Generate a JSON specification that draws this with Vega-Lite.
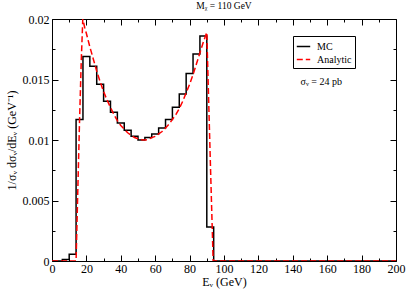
{
  "$schema": "https://vega.github.io/schema/vega-lite/v6.json",
  "autosize": "none",
  "width": 344,
  "height": 242,
  "padding": {"left": 52, "top": 19, "right": 11, "bottom": 29},
  "background": "white",
  "title": {"text": "M\u1D6A = 110 GeV", "font": "Liberation Serif", "fontSize": 9.5, "fontWeight": "normal", "color": "black", "offset": 3, "anchor": "middle"},
  "datasets": {
    "mc": [
      {"E": 0, "y": 0, "s": "MC"},
      {"E": 6, "y": 0.00012, "s": "MC"},
      {"E": 10, "y": 0.00056, "s": "MC"},
      {"E": 14, "y": 0.0117, "s": "MC"},
      {"E": 18, "y": 0.0169, "s": "MC"},
      {"E": 22, "y": 0.0161, "s": "MC"},
      {"E": 26, "y": 0.0146, "s": "MC"},
      {"E": 30, "y": 0.0132, "s": "MC"},
      {"E": 34, "y": 0.0123, "s": "MC"},
      {"E": 38, "y": 0.0114, "s": "MC"},
      {"E": 42, "y": 0.0108, "s": "MC"},
      {"E": 46, "y": 0.0103, "s": "MC"},
      {"E": 50, "y": 0.0100, "s": "MC"},
      {"E": 54, "y": 0.0102, "s": "MC"},
      {"E": 58, "y": 0.0105, "s": "MC"},
      {"E": 62, "y": 0.0110, "s": "MC"},
      {"E": 66, "y": 0.0117, "s": "MC"},
      {"E": 70, "y": 0.0127, "s": "MC"},
      {"E": 74, "y": 0.0138, "s": "MC"},
      {"E": 78, "y": 0.0155, "s": "MC"},
      {"E": 82, "y": 0.0171, "s": "MC"},
      {"E": 86, "y": 0.0186, "s": "MC"},
      {"E": 90, "y": 0.0028, "s": "MC"},
      {"E": 94, "y": 0, "s": "MC"},
      {"E": 200, "y": 0, "s": "MC"}
    ],
    "an": [
      {"E": 0, "y": 0, "s": "Analytic"},
      {"E": 14, "y": 0, "s": "Analytic"},
      {"E": 15, "y": 0.0058, "s": "Analytic"},
      {"E": 16, "y": 0.0115, "s": "Analytic"},
      {"E": 17, "y": 0.0165, "s": "Analytic"},
      {"E": 17.9, "y": 0.0200, "s": "Analytic"},
      {"E": 19, "y": 0.0193, "s": "Analytic"},
      {"E": 20, "y": 0.0188, "s": "Analytic"},
      {"E": 22, "y": 0.0177, "s": "Analytic"},
      {"E": 24, "y": 0.0167, "s": "Analytic"},
      {"E": 26, "y": 0.0157, "s": "Analytic"},
      {"E": 28, "y": 0.0148, "s": "Analytic"},
      {"E": 30, "y": 0.0140, "s": "Analytic"},
      {"E": 32, "y": 0.0133, "s": "Analytic"},
      {"E": 34, "y": 0.0127, "s": "Analytic"},
      {"E": 36, "y": 0.0121, "s": "Analytic"},
      {"E": 38, "y": 0.0116, "s": "Analytic"},
      {"E": 40, "y": 0.0112, "s": "Analytic"},
      {"E": 42, "y": 0.0109, "s": "Analytic"},
      {"E": 44, "y": 0.0106, "s": "Analytic"},
      {"E": 46, "y": 0.0104, "s": "Analytic"},
      {"E": 48, "y": 0.0102, "s": "Analytic"},
      {"E": 50, "y": 0.0101, "s": "Analytic"},
      {"E": 52, "y": 0.01003, "s": "Analytic"},
      {"E": 54, "y": 0.0100, "s": "Analytic"},
      {"E": 56, "y": 0.01005, "s": "Analytic"},
      {"E": 58, "y": 0.0102, "s": "Analytic"},
      {"E": 60, "y": 0.0103, "s": "Analytic"},
      {"E": 62, "y": 0.0105, "s": "Analytic"},
      {"E": 64, "y": 0.0107, "s": "Analytic"},
      {"E": 66, "y": 0.0110, "s": "Analytic"},
      {"E": 68, "y": 0.0113, "s": "Analytic"},
      {"E": 70, "y": 0.0117, "s": "Analytic"},
      {"E": 72, "y": 0.0121, "s": "Analytic"},
      {"E": 74, "y": 0.0126, "s": "Analytic"},
      {"E": 76, "y": 0.0132, "s": "Analytic"},
      {"E": 78, "y": 0.0139, "s": "Analytic"},
      {"E": 80, "y": 0.0146, "s": "Analytic"},
      {"E": 82, "y": 0.0154, "s": "Analytic"},
      {"E": 84, "y": 0.0163, "s": "Analytic"},
      {"E": 86, "y": 0.0172, "s": "Analytic"},
      {"E": 88, "y": 0.0181, "s": "Analytic"},
      {"E": 90, "y": 0.0189, "s": "Analytic"},
      {"E": 91, "y": 0.0137, "s": "Analytic"},
      {"E": 92, "y": 0.0085, "s": "Analytic"},
      {"E": 93, "y": 0.0035, "s": "Analytic"},
      {"E": 93.7, "y": 0, "s": "Analytic"},
      {"E": 200, "y": 0, "s": "Analytic"}
    ],
    "ann": [
      {"E": 144.5, "y": 0.0148, "t": "\u03C3\u1D65 = 24 pb"}
    ]
  },
  "config": {
    "view": {"stroke": null},
    "axis": {
      "grid": false,
      "domainColor": "black",
      "tickColor": "black",
      "labelColor": "black",
      "titleColor": "black",
      "labelFont": "Liberation Serif",
      "titleFont": "Liberation Serif",
      "titleFontWeight": "normal",
      "domainWidth": 1,
      "tickWidth": 1,
      "labelFontSize": 12,
      "titleFontSize": 12
    },
    "legend": {
      "labelFont": "Liberation Serif",
      "labelFontSize": 10,
      "labelColor": "black"
    }
  },
  "resolve": {"axis": {"x": "independent", "y": "independent"}},
  "layer": [
    {
      "data": {"name": "mc"},
      "mark": {"type": "line", "interpolate": "step-after", "strokeWidth": 1.5, "clip": true},
      "encoding": {
        "x": {"field": "E", "type": "quantitative", "scale": {"domain": [0, 200], "nice": false, "zero": false}, "axis": null},
        "y": {"field": "y", "type": "quantitative", "scale": {"domain": [0, 0.02], "nice": false}, "axis": null},
        "color": {"field": "s", "type": "nominal", "scale": {"domain": ["MC", "Analytic"], "range": ["black", "#ff0000"]},
          "legend": {"title": null, "orient": "none", "legendX": 241, "legendY": 17, "strokeColor": "black", "fillColor": "white", "padding": 3, "symbolType": "stroke", "symbolSize": 180, "symbolStrokeWidth": 1.5, "rowPadding": 0, "labelOffset": 6}},
        "strokeDash": {"field": "s", "type": "nominal", "scale": {"domain": ["MC", "Analytic"], "range": [[1, 0], [6, 3]]},
          "legend": {"title": null, "orient": "none", "legendX": 241, "legendY": 17, "strokeColor": "black", "fillColor": "white", "padding": 3, "symbolType": "stroke", "symbolSize": 180, "symbolStrokeWidth": 1.5, "rowPadding": 0, "labelOffset": 6}}
      }
    },
    {
      "data": {"name": "an"},
      "mark": {"type": "line", "strokeWidth": 1.5, "clip": true},
      "encoding": {
        "x": {"field": "E", "type": "quantitative", "axis": null},
        "y": {"field": "y", "type": "quantitative", "axis": null},
        "color": {"field": "s", "type": "nominal"},
        "strokeDash": {"field": "s", "type": "nominal"}
      }
    },
    {
      "data": {"name": "ann"},
      "mark": {"type": "text", "align": "left", "baseline": "middle", "font": "Liberation Serif", "fontSize": 10, "color": "black"},
      "encoding": {
        "x": {"field": "E", "type": "quantitative", "axis": null},
        "y": {"field": "y", "type": "quantitative", "axis": null},
        "text": {"field": "t"}
      }
    },
    {
      "data": {"name": "mc"},
      "mark": {"type": "point", "opacity": 0},
      "encoding": {
        "x": {"field": "E", "type": "quantitative", "axis": {"orient": "bottom", "values": [0, 20, 40, 60, 80, 100, 120, 140, 160, 180, 200], "tickSize": -6, "labelPadding": 8, "labelFlush": false, "labelOverlap": false, "title": "E\u1D65 (GeV)", "titlePadding": 2}},
        "y": {"field": "y", "type": "quantitative", "axis": {"orient": "left", "values": [0, 0.005, 0.01, 0.015, 0.02], "tickSize": -6, "labelPadding": 9, "labelFlush": false, "labelOverlap": false, "labelExpr": "datum.value == 0 ? '0' : format(datum.value, '~g')", "title": "1/\u03C3\u1D65 d\u03C3\u1D65/dE\u1D65 (GeV\u207B\u00B9)", "titlePadding": 4}}
      }
    },
    {
      "data": {"name": "mc"},
      "mark": {"type": "point", "opacity": 0},
      "encoding": {
        "x": {"field": "E", "type": "quantitative", "axis": {"orient": "bottom", "values": [10, 30, 50, 70, 90, 110, 130, 150, 170, 190], "tickSize": -3, "labels": false, "domain": false, "title": null}},
        "y": {"field": "y", "type": "quantitative", "axis": {"orient": "left", "values": [0.0025, 0.0075, 0.0125, 0.0175], "tickSize": -3, "labels": false, "domain": false, "title": null}}
      }
    },
    {
      "data": {"name": "mc"},
      "mark": {"type": "point", "opacity": 0},
      "encoding": {
        "x": {"field": "E", "type": "quantitative", "axis": {"orient": "top", "values": [0, 20, 40, 60, 80, 100, 120, 140, 160, 180, 200], "tickSize": -6, "labels": false, "title": null}},
        "y": {"field": "y", "type": "quantitative", "axis": {"orient": "right", "values": [0, 0.005, 0.01, 0.015, 0.02], "tickSize": -6, "labels": false, "title": null}}
      }
    },
    {
      "data": {"name": "mc"},
      "mark": {"type": "point", "opacity": 0},
      "encoding": {
        "x": {"field": "E", "type": "quantitative", "axis": {"orient": "top", "values": [10, 30, 50, 70, 90, 110, 130, 150, 170, 190], "tickSize": -3, "labels": false, "domain": false, "title": null}},
        "y": {"field": "y", "type": "quantitative", "axis": {"orient": "right", "values": [0.0025, 0.0075, 0.0125, 0.0175], "tickSize": -3, "labels": false, "domain": false, "title": null}}
      }
    }
  ]
}
